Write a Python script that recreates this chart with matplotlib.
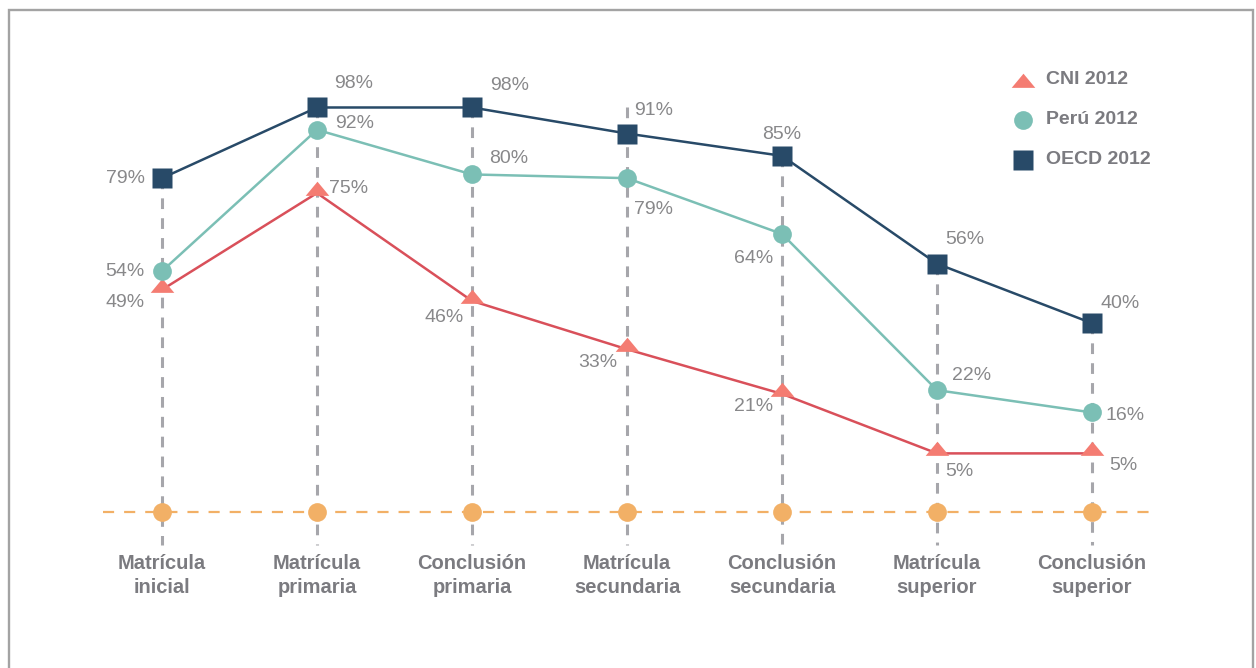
import matplotlib.pyplot as plt
from matplotlib.patches import Rectangle

# data
categories = ['Matrícula\ninicial', 'Matrícula\nprimaria', 'Conclusión\nprimaria',
              'Matrícula\nsecundaria', 'Conclusión\nsecundaria', 'Matrícula\nsuperior',
              'Conclusión\nsuperior']
cni = [49, 75, 46, 33, 21, 5, 5]
peru = [54, 92, 80, 79, 64, 22, 16]
oecd = [79, 98, 98, 91, 85, 56, 40]
series_names = ['CNI 2012', 'Perú 2012', 'OECD 2012']

# label placement (pixel offsets, up positive) and alignment
oecd_off = [(-17, 0, 'right'), (17, 24, 'left'), (18, 22, 'left'), (7, 23, 'left'),
            (0, 21, 'center'), (8, 24, 'left'), (8, 20, 'left')]
peru_off = [(-17, 0, 'right'), (18, 6, 'left'), (17, 16, 'left'), (7, -31, 'left'),
            (-9, -25, 'right'), (15, 15, 'left'), (13, -3, 'left')]
cni_off = [(-17, -13, 'right'), (12, 5, 'left'), (-8, -17, 'right'), (-10, -13, 'right'),
           (-9, -13, 'right'), (8, -18, 'left'), (17, -12, 'left')]

navy = '#284a68'
teal = '#7bbfb5'
salmon = '#f47c72'
red = '#d9505a'
orange = '#f2b066'
gray_line = '#a6a6ab'
txt_gray = '#88888a'
cat_gray = '#7b7b80'

plt.rcParams['font.family'] = ['Liberation Sans', 'DejaVu Sans']

fig = plt.figure(figsize=(12.56, 6.68), dpi=100)
ax = fig.add_axes([0, 0, 1, 1])
ax.set_xlim(-1.045, 7.058)
ax.set_ylim(-52.7, 126.9)
ax.axis('off')

x = list(range(len(categories)))
base = -10.75

# frame
fig.patches.append(Rectangle((8.5 / 1256, -0.1), 1244 / 1256, 1.1 - 10.5 / 668,
                             transform=fig.transFigure, fill=False,
                             edgecolor='#a3a3a3', lw=1.7))

# vertical dashed guides
tops = [oecd[0], oecd[1], oecd[2], 98, oecd[4], oecd[5], oecd[6]]
for xi, t in zip(x, tops):
    ax.plot([xi, xi], [t, -19.6], color=gray_line, lw=2.2, ls=(0, (3.5, 3)), zorder=1)

# baseline
ax.plot([-0.38, 6.39], [base, base], color=orange, lw=1.6, ls=(0, (5, 4.5)), zorder=1)
ax.plot(x, [base] * len(x), 'o', color=orange, ms=13.5, mec='none', zorder=3)

tri = [(-1, -0.2), (1, -0.2), (0, 1.0)]

ax.plot(x, cni, color=red, lw=1.8, zorder=2)
ax.plot(x, cni, ls='none', marker=tri, color=salmon, ms=17, mec='none', zorder=4)
ax.plot(x, peru, color=teal, lw=1.8, marker='o', ms=13.5, mec='none', zorder=4)
ax.plot(x, oecd, color=navy, lw=1.8, marker='s', ms=14.5, mec='none', zorder=5)

for vals, offs in [(oecd, oecd_off), (peru, peru_off), (cni, cni_off)]:
    for xi, v, (dx, dy, ha) in zip(x, vals, offs):
        ax.annotate(f'{v}%', (xi, v), xytext=(dx * 0.72, dy * 0.72),
                    textcoords='offset points', ha=ha, va='center',
                    fontsize=14, color=txt_gray, zorder=6)

for xi, c in zip(x, categories):
    ax.text(xi, -27.8, c, ha='center', va='center', fontsize=14.5, fontweight='bold',
            color=cat_gray, linespacing=1.35)

# legend
leg_markers = [(tri, salmon, 17), ('o', teal, 13.5), ('s', navy, 14.5)]
for i, (name, (m, col, ms)) in enumerate(zip(series_names, leg_markers)):
    ly = 1 - (80 + 40 * i) / 668
    dyoff = -5 / 668 if i == 0 else 0
    ax.plot([1023 / 1256], [ly + dyoff], ls='none', marker=m, color=col, ms=ms, mec='none',
            transform=ax.transAxes, clip_on=False)
    ax.text(1046 / 1256, ly, name, transform=ax.transAxes, ha='left', va='center',
            fontsize=14, fontweight='bold', color=cat_gray)

fig.savefig('out.png', dpi=100)
